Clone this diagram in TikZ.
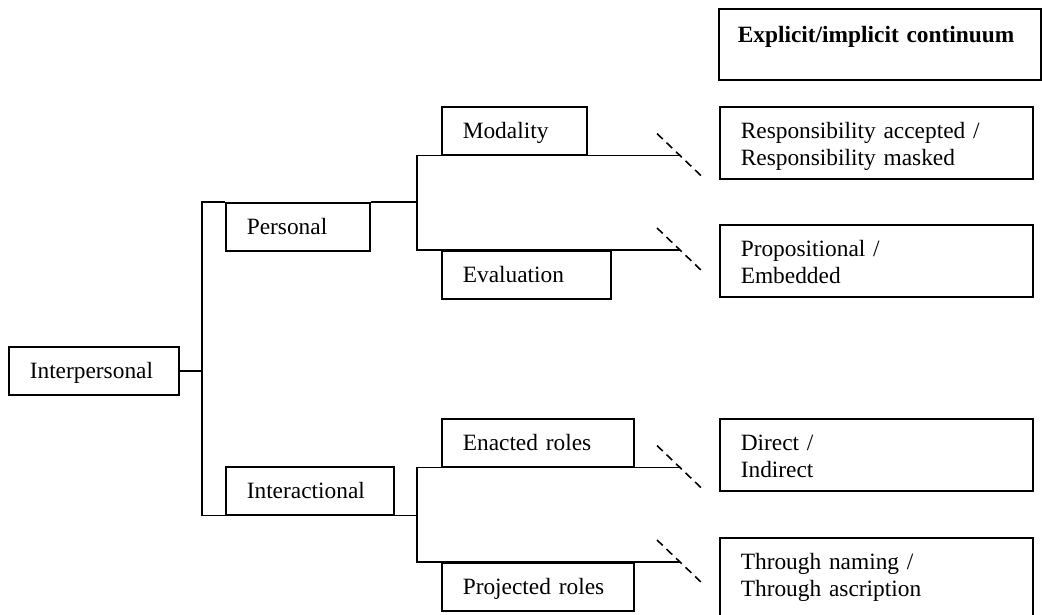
\documentclass[tikz,border=0pt]{standalone}
\usepackage{fontspec}
\setmainfont{Liberation Serif}

\begin{document}
\begin{tikzpicture}[x=0.02cm,y=-0.02cm,line width=0.9pt,
  font=\fontsize{13.3}{15.1}\selectfont,
  cat/.style={draw,rectangle,anchor=north west,align=left,
    inner xsep=0.42cm,inner ysep=0pt,text height=0.64cm,text depth=0.32cm},
  pole/.style={cat,text width=5.42cm,text depth=0.8cm},
  cut/.style={dash pattern=on 4.5pt off 3pt}]

\useasboundingbox (0,0) rectangle (1042,615);

\node [cat,text width=2.56cm] (interp) at (8,346) {Interpersonal};
\node [cat,text width=2.04cm] (personal) at (225,202) {Personal};
\node [cat,text width=2.52cm] (interact) at (225,466) {Interactional};

\node [cat,text width=2.06cm] (modality) at (441,106) {Modality};
\node [cat,text width=2.54cm] (evaluation) at (441,250) {Evaluation};
\node [cat,text width=3.0cm] (enacted) at (441,418) {Enacted roles};
\node [cat,text width=3.0cm] (projected) at (441,562) {Projected roles};

\node [pole,inner xsep=0.38cm,text width=5.68cm,text height=0.68cm,text depth=0.74cm]
  (explicit) at (718,8) {\bfseries Explicit/implicit continuum};
\node [pole] (respons) at (719,106) {Responsibility accepted /\\Responsibility masked};
\node [pole] (propos) at (719,224) {Propositional /\\Embedded};
\node [pole] (direct) at (719,418) {Direct /\\Indirect};
\node [pole,text depth=1.4cm] (naming) at (719,537) {Through naming /\\Through ascription};

\coordinate (tk) at (202,0);
\coordinate (pk) at (417,0);
\coordinate (dx) at (680,0);

% tree
\draw (interp.east) -- (interp.east -| tk);
\draw (personal.north west) -- (personal.north west -| tk)
  -- (interact.south west -| tk) -- (interact.south west);
\draw (personal.north east) -- (personal.north east -| pk);
\draw (interact.south east) -- (interact.south east -| pk);
\draw (modality.south west -| dx) -- (modality.south west -| pk)
  -- (evaluation.north west -| pk) -- (evaluation.north west -| dx);
\draw (enacted.south west -| dx) -- (enacted.south west -| pk)
  -- (projected.north west -| pk) -- (projected.north west -| dx);

% breaks
\foreach \a in {modality.south west,evaluation.north west,enacted.south west,projected.north west}
  \draw [cut] (\a -| dx) ++(-23,-22) -- ++(46,44);

\end{tikzpicture}
\end{document}
